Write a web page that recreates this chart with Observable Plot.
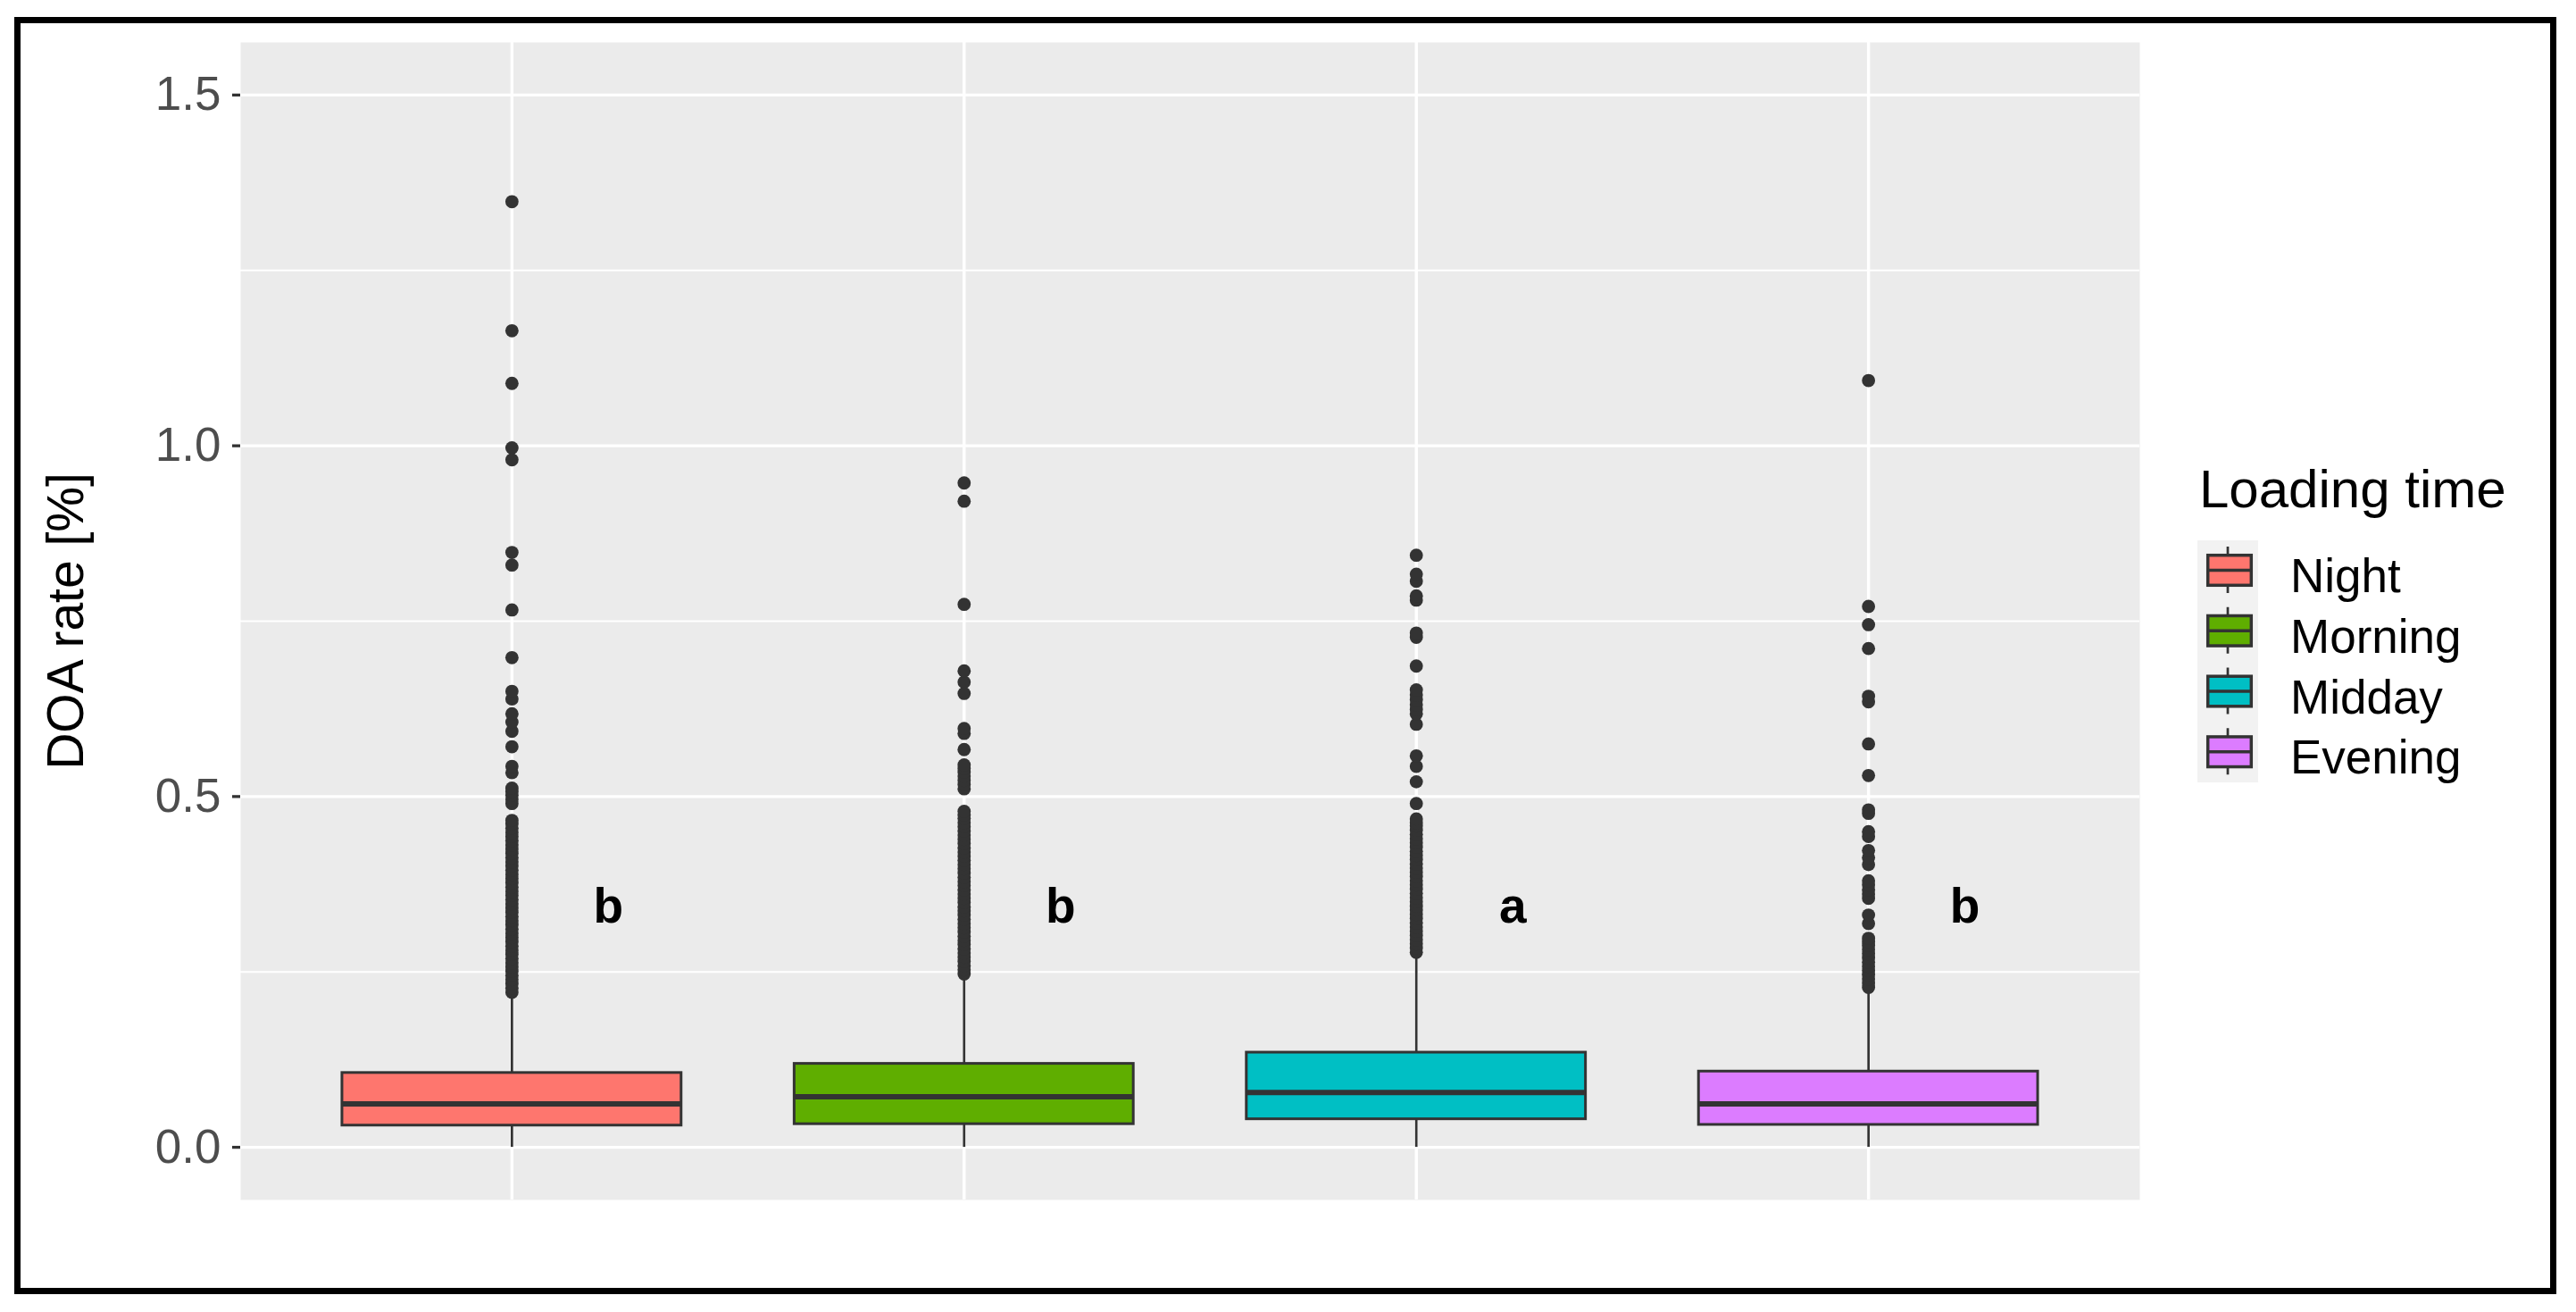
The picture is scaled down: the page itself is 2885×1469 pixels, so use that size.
<!DOCTYPE html>
<html>
<head>
<meta charset="utf-8">
<script src="https://cdn.jsdelivr.net/npm/d3@7"></script>
<script src="https://cdn.jsdelivr.net/npm/@observablehq/plot@0.6"></script>
<style>
html, body { margin: 0; padding: 0; background: #fff; }
#wrap { position: relative; width: 2885px; height: 1469px; font-family: "Liberation Sans", Arial, sans-serif; }
#chart { position: absolute; left: 0; top: 0; }
#legend { position: absolute; left: 0; top: 0; font-family: "Liberation Sans", Arial, sans-serif; }
#frame { position: absolute; left: 16px; top: 19px; width: 2847px; height: 1430px; border: 7px solid #000; box-sizing: border-box; pointer-events: none; }
</style>
</head>
<body>
<div id="wrap">
  <div id="chart"></div>
  <svg id="legend" width="2885" height="1469"></svg>
  <div id="frame"></div>
</div>
<script>
// ---------- data ----------
const categories = ["Night", "Morning", "Midday", "Evening"];
const colors = ["#FE766E", "#5FAE00", "#00BFC4", "#DC7CFF"];
const q1 = [0.031, 0.033, 0.040, 0.032];
const median = [0.062, 0.072, 0.078, 0.062];
const q3 = [0.106, 0.119, 0.135, 0.108];
const whiskerLow = [0, 0, 0, 0];
const whiskerHigh = [0.218, 0.245, 0.276, 0.225];
const groupLetters = ["b", "b", "a", "b"];
const letterY = [0.343, 0.343, 0.343, 0.343];

const nightOutliers = [
  0.221,0.227,0.233,0.239,0.245,0.251,0.257,0.263,0.269,0.275,0.281,0.287,0.293,0.299,0.305,0.311,
  0.317,0.323,0.329,0.335,0.341,0.347,0.353,0.359,0.365,0.371,0.377,0.383,0.389,0.395,0.401,0.407,
  0.413,0.419,0.425,0.431,0.437,0.443,0.449,0.455,0.461,0.466,
  0.490,0.496,0.502,0.507,0.512,
  0.534,0.543,0.571,0.593,0.606,0.618,0.639,0.650,0.698,0.766,0.830,0.848,0.980,0.997,1.089,1.164,1.348
];
const morningOutliers = [
  0.247,0.253,0.259,0.265,0.271,0.277,0.283,0.289,0.295,0.301,0.307,0.313,0.319,0.325,0.331,0.337,
  0.343,0.349,0.355,0.361,0.367,0.373,0.379,0.385,0.391,0.397,0.403,0.409,0.415,0.421,0.427,0.433,
  0.439,0.445,0.451,0.457,0.463,0.469,0.474,0.479,
  0.511,0.517,0.523,0.529,0.535,0.540,0.545,
  0.567,0.590,0.597,0.647,0.663,0.679,0.774,0.921,0.947
];
const middayOutliers = [
  0.278,0.284,0.290,0.296,0.302,0.308,0.314,0.320,0.326,0.332,0.338,0.344,0.350,0.356,0.362,0.368,
  0.374,0.380,0.386,0.392,0.398,0.404,0.410,0.416,0.422,0.428,0.434,0.440,0.446,0.452,0.458,0.463,0.468,
  0.490,0.521,0.543,0.558,0.603,0.618,0.624,0.631,0.638,0.645,0.652,0.686,0.727,0.733,0.780,0.786,
  0.807,0.817,0.844
];
const eveningOutliers = [
  0.228,0.234,0.240,0.246,0.252,0.258,0.264,0.270,0.276,0.282,0.288,0.293,0.298,
  0.319,0.331,0.355,0.361,0.367,0.374,0.380,0.403,0.413,0.423,0.443,0.450,0.476,0.481,
  0.530,0.575,0.635,0.643,0.711,0.745,0.771,1.093
];
const outliers = [nightOutliers, morningOutliers, middayOutliers, eveningOutliers];

const majorTicks = [0, 0.5, 1.0, 1.5];
const minorTicks = [0.25, 0.75, 1.25];
const yLabel = "DOA rate [%]";
const legendTitle = "Loading time";

// ---------- build ----------
const W = 2885, H = 1469;
const rows = categories.map((c, i) => ({
  cat: c, q1: q1[i], med: median[i], q3: q3[i], lo: whiskerLow[i], hi: whiskerHigh[i],
  letter: groupLetters[i], ly: letterY[i]
}));
const outRows = categories.flatMap((c, i) => outliers[i].map(v => ({cat: c, v})));

const chart = Plot.plot({
  width: W,
  height: H,
  marginLeft: 269,
  marginRight: W - 2396,
  marginTop: 47,
  marginBottom: H - 1343,
  style: {fontFamily: '"Liberation Sans", Arial, sans-serif', background: "transparent", overflow: "visible"},
  x: {type: "band", domain: categories, paddingInner: 0.25, paddingOuter: 0.225, round: false, axis: null},
  y: {domain: [-0.075, 1.575], axis: null},
  color: {domain: categories, range: colors},
  marks: [
    Plot.frame({fill: "#EBEBEB", stroke: "none"}),
    Plot.gridY(minorTicks, {stroke: "#fff", strokeOpacity: 1, strokeWidth: 2.2}),
    Plot.gridY(majorTicks, {stroke: "#fff", strokeOpacity: 1, strokeWidth: 3.4}),
    Plot.gridX({stroke: "#fff", strokeOpacity: 1, strokeWidth: 3.4}),
    Plot.axisY(majorTicks, {
      tickFormat: d => d.toFixed(1), tickSize: 9, tickPadding: 13, fontSize: 53,
      fill: "#4D4D4D", stroke: "#333333", strokeWidth: 3.3, label: null
    }),
    Plot.ruleX(rows, {x: "cat", y1: "q3", y2: "hi", stroke: "#333333", strokeWidth: 2.7}),
    Plot.ruleX(rows, {x: "cat", y1: "lo", y2: "q1", stroke: "#333333", strokeWidth: 2.7}),
    Plot.barY(rows, {x: "cat", y1: "q1", y2: "q3", fill: "cat", stroke: "#333333", strokeWidth: 3}),
    Plot.tickY(rows, {x: "cat", y: "med", stroke: "#333333", strokeWidth: 6}),
    Plot.dot(outRows, {x: "cat", y: "v", r: 7.4, fill: "#333333", stroke: "none"}),
    Plot.text(rows, {x: "cat", y: "ly", text: "letter", dx: 108, fontSize: 55, fontWeight: "bold", fill: "#000"}),
    Plot.text([yLabel], {frameAnchor: "left", textAnchor: "middle", dx: -195, rotate: -90, fontSize: 57, fill: "#000"})
  ]
});
document.getElementById("chart").appendChild(chart);

// ---------- legend ----------
const lg = d3.select("#legend");
lg.append("text").attr("x", 2463).attr("y", 568).attr("font-size", 60).attr("fill", "#000").text(legendTitle);
lg.append("rect").attr("x", 2461).attr("y", 605).attr("width", 68).attr("height", 271).attr("fill", "#F2F2F2");
categories.forEach((c, i) => {
  const y0 = 605 + i * 67.75;
  const g = lg.append("g").attr("transform", `translate(2461,${y0})`);
  g.append("line").attr("x1", 34).attr("x2", 34).attr("y1", 7).attr("y2", 59)
    .attr("stroke", "#333").attr("stroke-width", 2.7);
  g.append("rect").attr("x", 11.7).attr("y", 16.7).attr("width", 48.6).attr("height", 33.6)
    .attr("fill", colors[i]).attr("stroke", "#333").attr("stroke-width", 3.5);
  g.append("line").attr("x1", 11.7).attr("x2", 60.3).attr("y1", 33.5).attr("y2", 33.5)
    .attr("stroke", "#333").attr("stroke-width", 3.5);
  lg.append("text").attr("x", 2565).attr("y", y0 + 58).attr("font-size", 53).attr("fill", "#000").text(c);
});
</script>
</body>
</html>
